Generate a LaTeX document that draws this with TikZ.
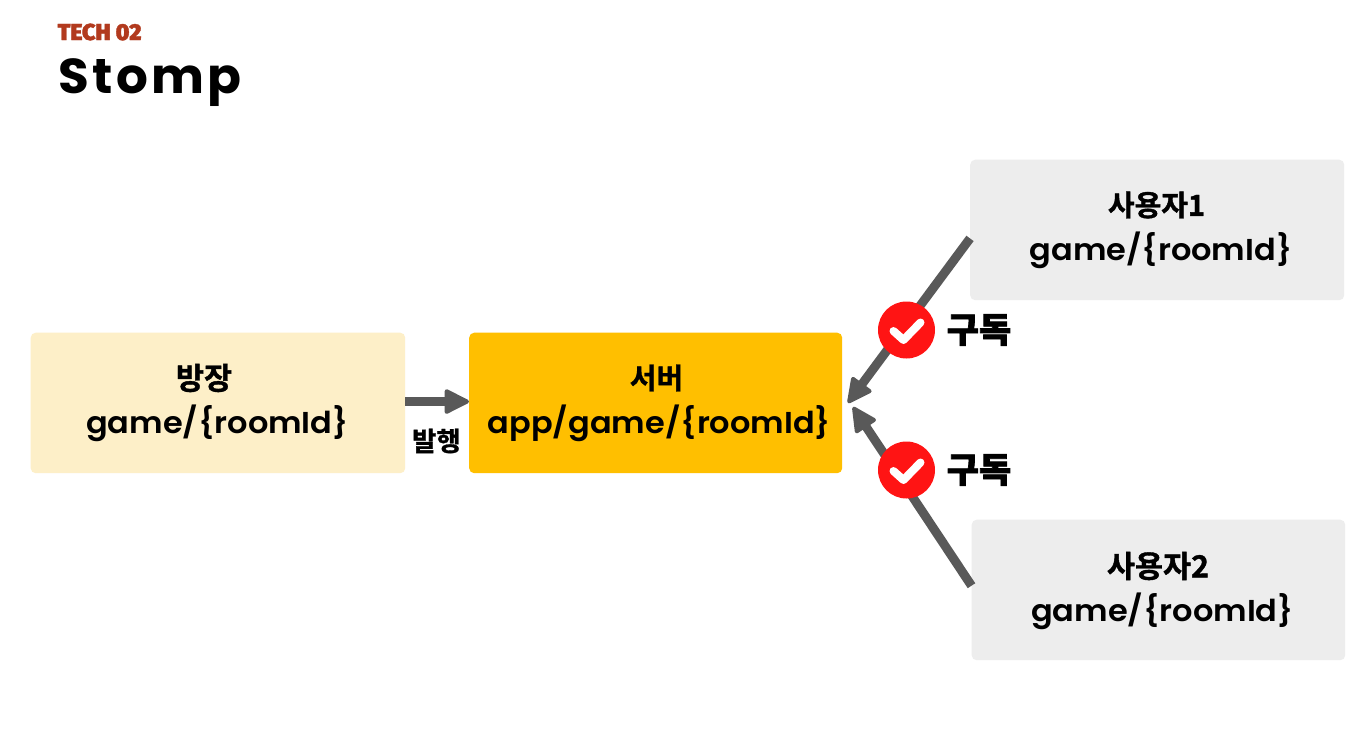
\documentclass[tikz,border=0pt]{standalone}
\usepackage{fontspec}
\usetikzlibrary{arrows.meta,calc}
\setmainfont{Poppins}[UprightFont=* SemiBold,BoldFont=* Bold,FakeStretch=1.06]
\newfontfamily\krfont{Noto Sans CJK KR}[UprightFont=* Bold,FakeBold=1.2]
\newfontfamily\krheavy{Noto Sans CJK KR}[UprightFont=* Black,FakeBold=2]
\newfontfamily\techfont{Fira Sans}[UprightFont=* Black,FakeBold=1.5]
\newfontfamily\stompfont{Poppins}[UprightFont=* Bold,LetterSpace=7,FakeStretch=1.02]
\definecolor{boxyellow}{HTML}{FDEFC8}
\definecolor{boxamber}{HTML}{FFBF00}
\definecolor{boxgray}{HTML}{EDEDED}
\definecolor{arrowgray}{HTML}{595959}
\definecolor{badgered}{HTML}{FF1414}
\definecolor{techred}{HTML}{B23A1E}
\tikzset{
  x=1pt,y=-1pt,
  box/.style={rounded corners=5pt,minimum height=140.5pt,anchor=north west,inner sep=0pt},
  lbl/.style={text=black,font=\fontsize{30.2}{36}\selectfont},
  head/.style={text=black,font=\krfont\fontsize{29}{36}\selectfont},
  headbig/.style={text=black,font=\krfont\fontsize{30.5}{36}\selectfont},
  link/.style={draw=arrowgray,line width=9pt,-{Triangle[length=27pt,width=26pt,round,line width=4pt]}},
  badge/.style={circle,fill=badgered,minimum size=57pt,inner sep=0pt},
  tick/.style={draw=white,line width=8pt,line cap=round,line join=round},
  sub/.style={text=black,font=\krheavy\fontsize{35}{40}\selectfont,anchor=center},
}
\begin{document}
\begin{tikzpicture}
\useasboundingbox (0,0) rectangle (1371,734);
\fill[white] (0,0) rectangle (1371,734);
\node[anchor=west,inner sep=0pt,text=techred,font=\techfont\fontsize{23}{26}\selectfont] (tech) at (57.5,32) {TECH 02};
\node[anchor=west,inner sep=0pt,text=black,font=\stompfont\fontsize{49}{56}\selectfont] (stomp) at (58,83) {Stomp};

\node[box,fill=boxyellow,minimum width=374.5pt] (host) at (30.5,332.5) {};
\node[box,fill=boxamber,minimum width=373pt] (server) at (469,332.5) {};
\node[box,fill=boxgray,minimum width=374pt] (u1) at (970,159.5) {};
\node[box,fill=boxgray,minimum width=373.5pt] (u2) at (971.5,519.5) {};

\node[headbig] (h0) at (204,378) {방장};
\node[lbl] (t0) at (217.5,423) {game/\{roomId\}};
\node[head] (h1) at (656.5,378) {서버};
\node[lbl] (t1) at (659.5,423) {app/game/\{roomId\}};
\node[head] (h2) at (1156.5,205) {사용자1};
\node[lbl] (t2) at (1161,250) {game/\{roomId\}};
\node[headbig] (h3) at (1158,566) {사용자2};
\node[lbl] (t3) at (1162.5,611) {game/\{roomId\}};

\coordinate (hostout) at ($(host.north east)!0.49!(host.south east)$);
\coordinate (srvin) at ($(server.north west)!0.49!(server.south west)$);
\coordinate (u1out) at ($(u1.north west)!0.56!(u1.south west)$);
\coordinate (u2out) at ($(u2.north west)!0.47!(u2.south west)$);
\coordinate (srvr1) at (848,403);
\coordinate (srvr2) at (853,407);

\draw[link] (hostout) -- (srvin);
\draw[link] (u1out) -- (srvr1);
\draw[link] (u2out) -- (srvr2);

\node[badge] (b1) at (906.5,330) {};
\node[badge] (b2) at (906.5,470) {};
\draw[tick] ($(b1)+(-13,1)$) -- ($(b1)+(-3,10)$) -- ($(b1)+(14,-7.5)$);
\draw[tick] ($(b2)+(-13,1)$) -- ($(b2)+(-3,10)$) -- ($(b2)+(14,-7.5)$);

\node[sub] (s1) at (979,330) {구독};
\node[sub] (s2) at (979,470) {구독};
\node[text=black,font=\krfont\fontsize{26.5}{28}\selectfont] (pub) at (436.5,441) {발행};
\end{tikzpicture}
\end{document}
